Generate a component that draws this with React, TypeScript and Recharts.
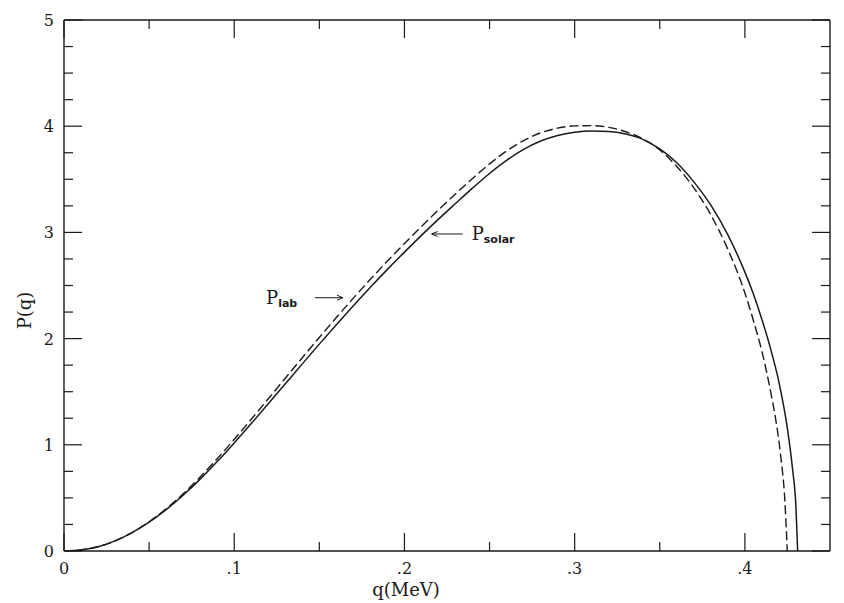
import React from 'react';
import { LineChart, Line, XAxis, YAxis, ReferenceDot } from 'recharts';

// ---- data ----
const qSolar = [0, 0.01, 0.02, 0.03, 0.04, 0.05, 0.06, 0.07, 0.08, 0.09, 0.10, 0.11, 0.12, 0.13, 0.14, 0.15, 0.16, 0.17, 0.18, 0.19, 0.20, 0.21, 0.22, 0.23, 0.24, 0.25, 0.26, 0.27, 0.28, 0.29, 0.30, 0.31, 0.32, 0.33, 0.34, 0.35, 0.36, 0.37, 0.38, 0.39, 0.40, 0.405, 0.41, 0.415, 0.42, 0.425, 0.428, 0.430, 0.431];
const pSolar = [0, 0.010, 0.040, 0.095, 0.173, 0.271, 0.389, 0.525, 0.677, 0.842, 1.018, 1.200, 1.386, 1.574, 1.762, 1.948, 2.131, 2.310, 2.484, 2.652, 2.814, 2.972, 3.125, 3.272, 3.417, 3.555, 3.678, 3.781, 3.860, 3.913, 3.943, 3.955, 3.951, 3.926, 3.876, 3.786, 3.656, 3.476, 3.256, 2.976, 2.626, 2.42, 2.18, 1.91, 1.59, 1.15, 0.77, 0.41, 0];

const qLab = [0, 0.01, 0.02, 0.03, 0.04, 0.05, 0.06, 0.07, 0.08, 0.09, 0.10, 0.11, 0.12, 0.13, 0.14, 0.15, 0.16, 0.17, 0.18, 0.19, 0.20, 0.21, 0.22, 0.23, 0.24, 0.25, 0.26, 0.27, 0.28, 0.29, 0.30, 0.31, 0.32, 0.33, 0.34, 0.35, 0.36, 0.37, 0.38, 0.39, 0.40, 0.405, 0.41, 0.415, 0.418, 0.421, 0.4235, 0.4249];
const pLab = [0, 0.010, 0.040, 0.095, 0.174, 0.275, 0.397, 0.539, 0.697, 0.869, 1.052, 1.240, 1.433, 1.627, 1.820, 2.011, 2.198, 2.381, 2.559, 2.730, 2.895, 3.056, 3.212, 3.362, 3.508, 3.645, 3.766, 3.864, 3.937, 3.982, 4.003, 4.005, 3.989, 3.948, 3.881, 3.776, 3.62, 3.42, 3.165, 2.84, 2.43, 2.17, 1.88, 1.51, 1.25, 0.90, 0.47, 0];

const qTicks = [0, 0.05, 0.1, 0.15, 0.2, 0.25, 0.3, 0.35, 0.4];
const qMajor = [0, 0.1, 0.2, 0.3, 0.4];
const qMajorLabels = ['0', '.1', '.2', '.3', '.4'];

const pTicks = [0, 0.25, 0.5, 0.75, 1, 1.25, 1.5, 1.75, 2, 2.25, 2.5, 2.75, 3, 3.25, 3.5, 3.75, 4, 4.25, 4.5, 4.75, 5];
const pMajor = [0, 1, 2, 3, 4, 5];
const pMajorLabels = ['0', '1', '2', '3', '4', '5'];

const xTitle = 'q(MeV)';
const yTitle = 'P(q)';

// annotation anchors (data coordinates where the arrows point)
const solarNote = { q: 0.2154, p: 2.985, main: 'P', sub: 'solar' };
const labNote = { q: 0.1645, p: 2.385, main: 'P', sub: 'lab' };

const solarData = qSolar.map((q, i) => ({ q, p: pSolar[i] }));
const labData = qLab.map((q, i) => ({ q, p: pLab[i] }));

const INK = '#1a1a1a';
const SERIF = '"DejaVu Serif", "Liberation Serif", serif';
const SANS = '"DejaVu Sans", "Liberation Sans", sans-serif';
const MAJOR = 18;
const MINOR = 9;

const majorIndex = (list: number[], v: number) => list.findIndex((m) => Math.abs(m - v) < 1e-9);

const BottomTick = (props: any) => {
  const { x, y, payload } = props;
  const i = majorIndex(qMajor, payload.value);
  const len = i >= 0 ? MAJOR : MINOR;
  return (
    <g>
      <line x1={x} x2={x} y1={y} y2={y - len} stroke={INK} strokeWidth={1.2} />
      {i >= 0 && (
        <text x={x} y={y + 23} textAnchor="middle" fontFamily={SERIF} fontSize={16} fill={INK}>
          {qMajorLabels[i]}
        </text>
      )}
    </g>
  );
};

const TopTick = (props: any) => {
  const { x, y, payload } = props;
  const i = majorIndex(qMajor, payload.value);
  const len = i >= 0 ? MAJOR : MINOR;
  return <line x1={x} x2={x} y1={y} y2={y + len} stroke={INK} strokeWidth={1.2} />;
};

const LeftTick = (props: any) => {
  const { x, y, payload } = props;
  const i = majorIndex(pMajor, payload.value);
  const len = i >= 0 ? MAJOR : MINOR;
  return (
    <g>
      <line x1={x} x2={x + len} y1={y} y2={y} stroke={INK} strokeWidth={1.2} />
      {i >= 0 && (
        <text x={x - 10} y={y + 6} textAnchor="end" fontFamily={SERIF} fontSize={16} fill={INK}>
          {pMajorLabels[i]}
        </text>
      )}
    </g>
  );
};

const RightTick = (props: any) => {
  const { x, y, payload } = props;
  const i = majorIndex(pMajor, payload.value);
  const len = i >= 0 ? MAJOR : MINOR;
  return <line x1={x} x2={x - len} y1={y} y2={y} stroke={INK} strokeWidth={1.2} />;
};

const SolarShape = (props: any) => {
  const { cx, cy } = props;
  return (
    <g>
      <line x1={cx + 1} x2={cx + 32} y1={cy} y2={cy} stroke={INK} strokeWidth={1} />
      <path d={`M${cx + 7},${cy - 2.5} L${cx + 1},${cy} L${cx + 7},${cy + 2.5}`} fill="none" stroke={INK} strokeWidth={1} />
      <text x={cx + 41} y={cy + 6} fontFamily={SERIF} fontSize={18} fill={INK}>
        {solarNote.main}
        <tspan fontFamily={SANS} fontWeight="bold" fontSize={11} dy={3}>{solarNote.sub}</tspan>
      </text>
    </g>
  );
};

const LabShape = (props: any) => {
  const { cx, cy } = props;
  return (
    <g>
      <line x1={cx - 29} x2={cx - 1} y1={cy} y2={cy} stroke={INK} strokeWidth={1} />
      <path d={`M${cx - 7},${cy - 2.5} L${cx - 1},${cy} L${cx - 7},${cy + 2.5}`} fill="none" stroke={INK} strokeWidth={1} />
      <text x={cx - 78} y={cy + 6} fontFamily={SERIF} fontSize={18} fill={INK}>
        {labNote.main}
        <tspan fontFamily={SANS} fontWeight="bold" fontSize={11} dy={3}>{labNote.sub}</tspan>
      </text>
    </g>
  );
};

const XTitle = (props: any) => {
  const vb = props.viewBox || { x: 64, y: 551, width: 766, height: 52 };
  return (
    <text x={vb.x + 342} y={vb.y + 45} textAnchor="middle" fontFamily={SERIF} fontSize={18} fill={INK}>
      {xTitle}
    </text>
  );
};

const YTitle = (props: any) => {
  const vb = props.viewBox || { x: 0, y: 20, width: 64, height: 531 };
  const x = vb.x + 31;
  const y = vb.y + vb.height / 2 + 25;
  return (
    <text x={x} y={y} textAnchor="middle" fontFamily={SERIF} fontSize={18} fill={INK} transform={`rotate(-90, ${x}, ${y})`}>
      {yTitle}
    </text>
  );
};

export default function App() {
  return (
    <div style={{ position: 'absolute', left: 0, top: 0, width: 844, height: 603, background: '#fff' }}>
      <LineChart width={844} height={603} margin={{ top: 19, right: 13, bottom: 0, left: 0 }}>
        <XAxis
          xAxisId={0}
          dataKey="q"
          type="number"
          domain={[0, 0.45]}
          ticks={qTicks}
          interval={0}
          height={52}
          tickSize={0}
          tickMargin={0}
          tickLine={false}
          axisLine={{ stroke: INK, strokeWidth: 1.4 }}
          tick={<BottomTick />}
          label={<XTitle />}
          allowDataOverflow
        />
        <XAxis
          xAxisId="top"
          orientation="top"
          dataKey="q"
          type="number"
          domain={[0, 0.45]}
          ticks={qTicks}
          interval={0}
          height={1}
          tickSize={0}
          tickMargin={0}
          tickLine={false}
          axisLine={{ stroke: INK, strokeWidth: 1.4 }}
          tick={<TopTick />}
          allowDataOverflow
        />
        <YAxis
          yAxisId={0}
          type="number"
          domain={[0, 5]}
          ticks={pTicks}
          interval={0}
          width={64}
          tickSize={0}
          tickMargin={0}
          tickLine={false}
          axisLine={{ stroke: INK, strokeWidth: 1.4 }}
          tick={<LeftTick />}
          label={<YTitle />}
          allowDataOverflow
        />
        <YAxis
          yAxisId="right"
          orientation="right"
          type="number"
          domain={[0, 5]}
          ticks={pTicks}
          interval={0}
          width={1}
          tickSize={0}
          tickMargin={0}
          tickLine={false}
          axisLine={{ stroke: INK, strokeWidth: 1.4 }}
          tick={<RightTick />}
          allowDataOverflow
        />
        <Line
          data={labData}
          dataKey="p"
          xAxisId="top"
          yAxisId="right"
          type="monotone"
          stroke={INK}
          strokeWidth={1.4}
          strokeDasharray="9 4"
          dot={false}
          activeDot={false}
          isAnimationActive={false}
        />
        <Line
          data={solarData}
          dataKey="p"
          type="monotone"
          stroke={INK}
          strokeWidth={1.5}
          dot={false}
          activeDot={false}
          isAnimationActive={false}
        />
        <ReferenceDot x={solarNote.q} y={solarNote.p} r={0} shape={<SolarShape />} />
        <ReferenceDot x={labNote.q} y={labNote.p} r={0} shape={<LabShape />} />
      </LineChart>
    </div>
  );
}
